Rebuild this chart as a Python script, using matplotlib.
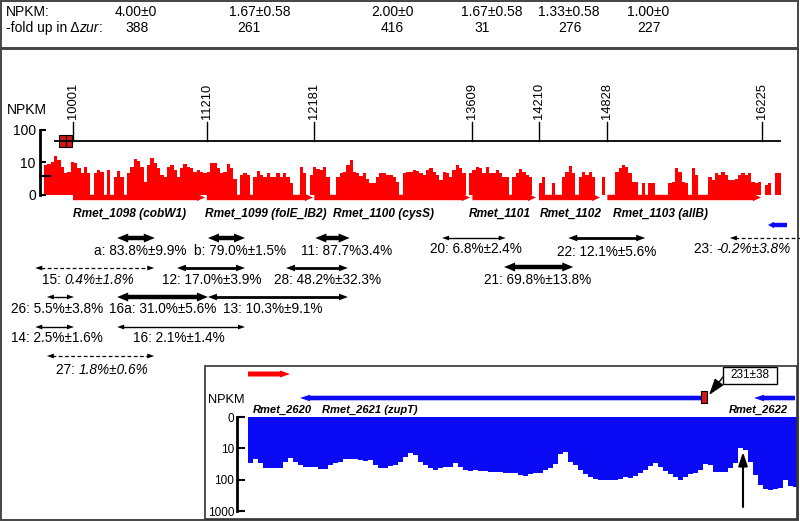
import numpy as np
import matplotlib
matplotlib.use('Agg')
import matplotlib.pyplot as plt
from matplotlib.patches import Rectangle, Polygon
from matplotlib.ticker import NullLocator
import matplotlib.transforms as mtransforms

plt.rcParams['font.family'] = ['Liberation Sans', 'DejaVu Sans']

# ---------------- data ----------------
npkm_top = ['4.00±0', '1.67±0.58', '2.00±0', '1.67±0.58', '1.33±0.58', '1.00±0']
fold_up = ['388', '261', '416', '31', '276', '227']

ruler_ticks = [10001, 11210, 12181, 13609, 14210, 14828, 16225]
locus = (9830, 16395)
zur_boxes = [(9875, 9937), (9937, 9992)]

gene_names = ['Rmet_1098 (cobW1)', 'Rmet_1099 (folE_IB2)', 'Rmet_1100 (cysS)',
              'Rmet_1101', 'Rmet_1102', 'Rmet_1103 (allB)']
gene_start = [10001, 11210, 12181, 13609, 14210, 14828]
gene_end = [11193, 12169, 13587, 14183, 14762, 16216]
next_gene = (16451, 16279)  # Rmet_1104, minus strand, cut off

# NPKM coverage, 30 bp bins from 9739
cov_start = 9739
cov_bin = 30
cov = [8.1, 8.6, 10.2, 15.5, 11.5, 7.2, 4.5, 5.0, 10.2, 9.5,
       6.4, 4.5, 7.2, 4.5, 0, 4.5, 5.7, 5.0, 0, 5.7,
       0, 3.5, 5.4, 3.5, 0, 4.5, 7.2, 12.0, 11.0, 7.2,
       2.5, 8.1, 13.0, 9.5, 6.4, 4.0, 3.5, 7.2, 8.1, 5.7,
       3.5, 6.4, 8.6, 7.2, 6.4, 5.0, 5.7, 5.0, 4.5, 5.0,
       9.5, 9.5, 6.4, 4.5, 5.0, 8.6, 6.4, 3.1, 0, 4.0,
       4.5, 4.0, 0, 3.5, 5.4, 4.0, 3.5, 4.5, 3.5, 3.5,
       4.5, 3.5, 4.5, 3.5,
       2.3, 0, 0, 7.2, 4.5, 0, 4.0, 7.2, 6.0, 5.7,
       6.8, 3.5, 0, 0, 3.5, 4.5, 5.0, 8.1, 11.5, 5.0,
       4.5, 3.7, 4.5, 3.1, 2.3, 2.3, 3.5, 4.5, 4.5, 4.0,
       4.0, 3.5, 2.5, 0, 4.5, 5.0, 5.0, 5.7, 5.4, 4.5,
       4.0, 5.7, 6.4, 5.0, 4.0, 2.8, 5.0, 4.5, 3.5, 5.7,
       8.1, 6.4, 4.5, 0, 4.5, 5.7, 7.2, 6.4, 4.5, 7.2,
       4.5, 4.5, 5.7, 4.5, 3.5, 3.5, 0, 3.5, 4.5, 6.0,
       5.0, 4.0, 3.5, 0, 0,
       2.2, 3.5, 0, 0, 2.2, 0, 0, 3.5, 5.0, 7.5,
       4.5, 0, 3.5, 5.0, 4.0, 5.0, 3.5, 0, 0, 3.5,
       0, 0, 0, 5.0, 6.4, 8.1, 6.8, 4.5, 2.5, 2.5,
       0, 2.2, 0, 2.2, 2.2, 0, 0, 0, 0, 2.2,
       2.5, 6.4, 5.0, 2.5, 2.2, 0, 6.4, 4.0, 0, 0,
       0, 3.5, 2.8, 4.5, 4.0, 5.0, 4.0, 2.8, 2.8, 3.1,
       4.0, 4.5, 4.0, 4.5, 2.5, 2.2, 2.5, 0, 2.0, 2.2,
       0, 4.5, 4.5]
npkm_mark = 3.7

frag_names = ['a', 'b', '11', '15', '12', '28', '26', '16a', '13', '14', '16', '27',
              '20', '22', '23', '21']
frag_vals = ['83.8%±9.9%', '79.0%±1.5%', '87.7%3.4%', '0.4%±1.8%', '17.0%±3.9%',
             '48.2%±32.3%', '5.5%±3.8%', '31.0%±5.6%', '10.3%±9.1%', '2.5%±1.6%',
             '2.1%±1.4%', '1.8%±0.6%', '6.8%±2.4%', '12.1%±5.6%', '-0.2%±3.8%',
             '69.8%±13.8%']
frag_start = [10400, 11220, 12190, 9660, 10940, 11925, 9765, 10400, 11220, 9660,
              10400, 9765, 13335, 14475, 15935, 13895]
frag_end = [10740, 11555, 12500, 10735, 11555, 12485, 10010, 11220, 12485, 10010,
            11555, 10735, 13910, 15170, 16600, 14520]

# zupT region coverage (NPKM, 110 equal bins)
zup_cov = [30, 22, 30, 43, 43, 43, 43, 27, 21, 27,
           34, 39, 39, 39, 46, 46, 34, 30, 27, 22,
           22, 22, 23.5, 25, 23.5, 34, 43, 43, 36, 34,
           27, 19.5, 13.7, 16, 27, 34, 43, 49, 43, 39,
           39, 29, 39, 49, 52, 49, 52, 52, 56, 56,
           56, 60, 63, 60, 71, 76, 66, 63, 60, 49,
           43, 32, 15, 12.7, 27, 34, 49, 66, 85, 98,
           104, 104, 104, 104, 98, 85, 91, 76, 60, 49,
           36, 30, 39, 52, 66, 81, 104, 85, 66, 60,
           49, 32, 34, 56, 56, 56, 43, 30, 10, 11.2,
           27, 71, 150, 193, 218, 205, 180, 104, 160, 170]
zup_genes = ['Rmet_2620', 'Rmet_2621 (zupT)', 'Rmet_2622']
zup_gene_span = [(0, 8.4), (90.6, 10.4), (109.4, 101.2)]  # (from, to) in bins, arrow points to 'to'
zup_box = (90.6, 91.8)
zup_box_npkm = '231±38'
zup_tss = 99

# ---------------- layout ----------------
W, H = 800, 521
RED = '#ff0000'
BLUE = '#0a0af5'
BOXRED = '#d01818'

fig = plt.figure(figsize=(W / 100, H / 100), dpi=100)

bp_per_px = (16225 - 10001) / (762 - 73)


def bp_at(px):
    return 10001 + (px - 73) * bp_per_px


# genomic layer of upper panel: x in bp, y in pixel rows
gen = fig.add_axes([0, 0, 1, 1])
gen.set_xlim(bp_at(0), bp_at(W))
gen.set_ylim(H, 0)
gen.axis('off')


def gene_arrow(ax, x0, x1, y, half, head_half, head_len, color):
    d = 1 if x1 > x0 else -1
    hb = x1 - d * head_len
    pts = [(x0, y - half), (hb, y - half), (hb, y - head_half), (x1, y),
           (hb, y + head_half), (hb, y + half), (x0, y + half)]
    ax.add_patch(Polygon(pts, closed=True, facecolor=color, edgecolor='none'))


def head(ax, tip, y, d, hlen, hhalf):
    base = tip - d * hlen
    ax.add_patch(Polygon([(tip, y), (base, y - hhalf), (base, y + hhalf)],
                         closed=True, facecolor='black', edgecolor='none'))


def frag_arrow(ax, s, e, y, style, both=True):
    hlen_px, hhalf, lw, ls = style
    hlen = hlen_px * bp_per_px
    x0 = s + hlen * 0.8
    x1 = e - hlen * 0.8 if both else e
    ax.plot([x0, x1], [y, y], color='black', lw=lw, ls=ls, solid_capstyle='butt')
    head(ax, s, y, -1, hlen, hhalf)
    if both:
        head(ax, e, y, 1, hlen, hhalf)


# ruler
gen.plot(locus, [141, 141], color='black', lw=1.3, solid_capstyle='butt')
for t in ruler_ticks:
    gen.plot([t, t], [141, 122], color='black', lw=1.0)
    gen.text(t, 119, str(t), rotation=90, ha='center', va='bottom', fontsize=9.3)
for s, e in zur_boxes:
    gen.add_patch(Rectangle((s, 135), e - s, 12, facecolor=BOXRED, edgecolor='black', lw=0.8))

# genes
for s, e in zip(gene_start, gene_end):
    gene_arrow(gen, s, e, 197.5, 2.7, 3.6, 8 * bp_per_px, RED)
gene_arrow(gen, next_gene[0], next_gene[1], 225, 2.2, 3.2, 6 * bp_per_px, BLUE)

# fragments: arrow row (px) and weight
frag_layout = {
    'a': (238, 'thick'), 'b': (238, 'thick'), '11': (238, 'thick'),
    '15': (268, 'dashed'), '12': (268, 'medium'), '28': (268, 'medium'),
    '26': (297, 'thin'), '16a': (297, 'thick'), '13': (297, 'medium'),
    '14': (327, 'thin'), '16': (327, 'thin'), '27': (356, 'dashed'),
    '20': (238, 'thin'), '22': (238, 'medium'), '23': (238, 'dashed'),
    '21': (267, 'thick'),
}
# head length px, head half-width px, shaft lw, linestyle
arrow_styles = {
    'thick': (11, 4.5, 3.2, '-'),
    'medium': (9, 3.3, 2.0, '-'),
    'thin': (7, 2.4, 1.0, '-'),
    'dashed': (7, 2.4, 0.9, (0, (3, 2))),
}
for name, s, e in zip(frag_names, frag_start, frag_end):
    y, st = frag_layout[name]
    frag_arrow(gen, s, e, y, arrow_styles[st], both=(name != '23'))

# coverage histogram
cov_ax = fig.add_axes([40 / W, 1 - 194.5 / H, (783 - 40) / W, 65 / H])
cov_ax.patch.set_alpha(0)
cov_ax.set_xlim(bp_at(40), bp_at(783))
cov_ax.set_yscale('log')
cov_ax.set_ylim(1, 100)
cov_arr = np.array(cov, dtype=float)
edges = cov_start + cov_bin * np.arange(len(cov_arr) + 1)
cov_ax.stairs(np.where(cov_arr > 0, cov_arr, 1), edges, baseline=1, fill=True,
              color=RED, lw=0)
for sp in ['top', 'right', 'bottom']:
    cov_ax.spines[sp].set_visible(False)
cov_ax.spines['left'].set_linewidth(2)
cov_ax.set_xticks([])
cov_ax.set_yticks([1, 10, 100])
cov_ax.set_yticklabels(['0', '10', '100'])
cov_ax.yaxis.set_minor_locator(NullLocator())
cov_ax.tick_params(axis='y', direction='in', length=4, width=1.5, pad=3, labelsize=10)
trans = mtransforms.blended_transform_factory(cov_ax.transAxes, cov_ax.transData)
cov_ax.plot([0, 10 / 743], [npkm_mark, npkm_mark], color='black', lw=1.5,
            transform=trans, clip_on=False)

# zupT inset coverage
BINPX = 5
ins_cov = fig.add_axes([237 / W, 1 - 511 / H, (798 - 237) / W, 94 / H])
ins_cov.patch.set_alpha(0)
ins_cov.set_xlim((237 - 248) / BINPX, (798 - 248) / BINPX)
ins_cov.set_yscale('log')
ins_cov.set_ylim(1000, 1)
ins_cov.stairs(zup_cov, np.arange(len(zup_cov) + 1), baseline=1, fill=True, color=BLUE, lw=0)
for sp in ['top', 'right', 'bottom']:
    ins_cov.spines[sp].set_visible(False)
ins_cov.spines['left'].set_linewidth(2)
ins_cov.set_xticks([])
ins_cov.set_yticks([1, 10, 100, 1000])
ins_cov.set_yticklabels(['0', '10', '100', '1000'])
ins_cov.yaxis.set_minor_locator(NullLocator())
ins_cov.tick_params(axis='y', direction='in', length=6, width=1.5, pad=2, labelsize=8.5)

ins_gene = fig.add_axes([0, 0, 1, 1])
ins_gene.set_xlim(-248 / BINPX, (W - 248) / BINPX)
ins_gene.set_ylim(H, 0)
ins_gene.axis('off')
gene_arrow(ins_gene, *zup_gene_span[0], 374, 2.5, 3.5, 2.0, RED)
gene_arrow(ins_gene, *zup_gene_span[1], 398, 2.3, 3.3, 2.0, BLUE)
gene_arrow(ins_gene, *zup_gene_span[2], 398, 2.3, 3.3, 2.0, BLUE)
ins_gene.add_patch(Rectangle((zup_box[0], 391), zup_box[1] - zup_box[0], 12,
                             facecolor=BOXRED, edgecolor='black', lw=0.8, zorder=3))
ins_gene.annotate('', xy=(zup_tss, 452), xytext=(zup_tss, 507),
                  arrowprops=dict(arrowstyle='-|>,head_length=0.9,head_width=0.3',
                                  mutation_scale=9, lw=1.5, color='black',
                                  shrinkA=0, shrinkB=0))

# ---------------- text & frames (pixel canvas) ----------------
canvas = fig.add_axes([0, 0, 1, 1])
canvas.set_zorder(10)
canvas.patch.set_alpha(0)
canvas.set_xlim(0, W)
canvas.set_ylim(H, 0)
canvas.axis('off')
renderer = fig.canvas.get_renderer()


def text_w(s, size, st='normal'):
    t = canvas.text(0, 0, s, fontsize=size, style=st)
    w = t.get_window_extent(renderer).width
    t.remove()
    return w


def mixed(x, y, parts, size, ha='center'):
    # width of each part measured inside a neighbour context so spaces count
    widths = [text_w(s + 'x', size, st) - text_w('x', size, st) for s, st in parts]
    x0 = x - sum(widths) / 2 if ha == 'center' else x
    for (s, st), w in zip(parts, widths):
        canvas.text(x0, y, s, fontsize=size, style=st, ha='left', va='center')
        x0 += w


canvas.add_patch(Rectangle((1, 1), W - 3, 47, fill=False, edgecolor='#444444', lw=1.4))
canvas.add_patch(Rectangle((1, 49), W - 3, H - 50, fill=False, edgecolor='#444444', lw=1.4))
canvas.add_patch(Rectangle((205, 366), W - 208, H - 368, fill=False, edgecolor='#333333', lw=1.2))

canvas.text(6, 12, 'NPKM:', fontsize=10, va='center')
mixed(6, 28, [('-fold up in Δ', 'normal'), ('zur', 'italic'), (':', 'normal')], 10, ha='left')
top_x1 = [136, 260, 392, 492, 569, 648]
top_x2 = [137, 249, 392, 482, 570, 649]
for x1, x2, v, f in zip(top_x1, top_x2, npkm_top, fold_up):
    canvas.text(x1, 12, v, fontsize=10, ha='center', va='center')
    canvas.text(x2, 28, f, fontsize=10, ha='center', va='center')

canvas.text(7, 110, 'NPKM', fontsize=10, va='center')
canvas.text(208, 400, 'NPKM', fontsize=9.2, va='center')

gene_label_x = [73, 205, 333, 469, 540, 613]
for x, g in zip(gene_label_x, gene_names):
    canvas.text(x, 214, g, fontsize=8.6, weight='bold', style='italic', va='center')
zup_label_x = [253, 322, 788]
zup_label_ha = ['left', 'left', 'right']
for x, g, ha in zip(zup_label_x, zup_genes, zup_label_ha):
    canvas.text(x, 410, g, fontsize=8, weight='bold', style='italic', va='center', ha=ha)

label_pos = {
    'a': (140, 251), 'b': (240, 251), '11': (347, 251),
    '15': (88, 280), '12': (212, 280), '28': (328, 280),
    '26': (57, 309), '16a': (163, 309), '13': (273, 309),
    '14': (57, 338), '16': (179, 338), '27': (102, 370),
    '20': (476, 249), '22': (607, 252), '23': (742, 249), '21': (538, 280),
}
for name, val in zip(frag_names, frag_vals):
    x, y = label_pos[name]
    if frag_layout[name][1] == 'dashed':
        mixed(x, y, [(name + ': ', 'normal'), (val, 'italic')], 9.8)
    else:
        canvas.text(x, y, name + ': ' + val, fontsize=9.8, ha='center', va='center')

# NPKM callout for the Zur box upstream of zupT
canvas.add_patch(Rectangle((723, 367), 54, 17, facecolor='white', edgecolor='black', lw=1.0))
canvas.text(750, 375.5, zup_box_npkm, fontsize=8.5, ha='center', va='center')
canvas.annotate('', xy=(709, 395), xytext=(723, 377),
                arrowprops=dict(arrowstyle='-|>,head_length=1.0,head_width=0.33',
                                mutation_scale=10, lw=1.0, color='black',
                                shrinkA=0, shrinkB=0))

fig.savefig('out.png', dpi=100)
